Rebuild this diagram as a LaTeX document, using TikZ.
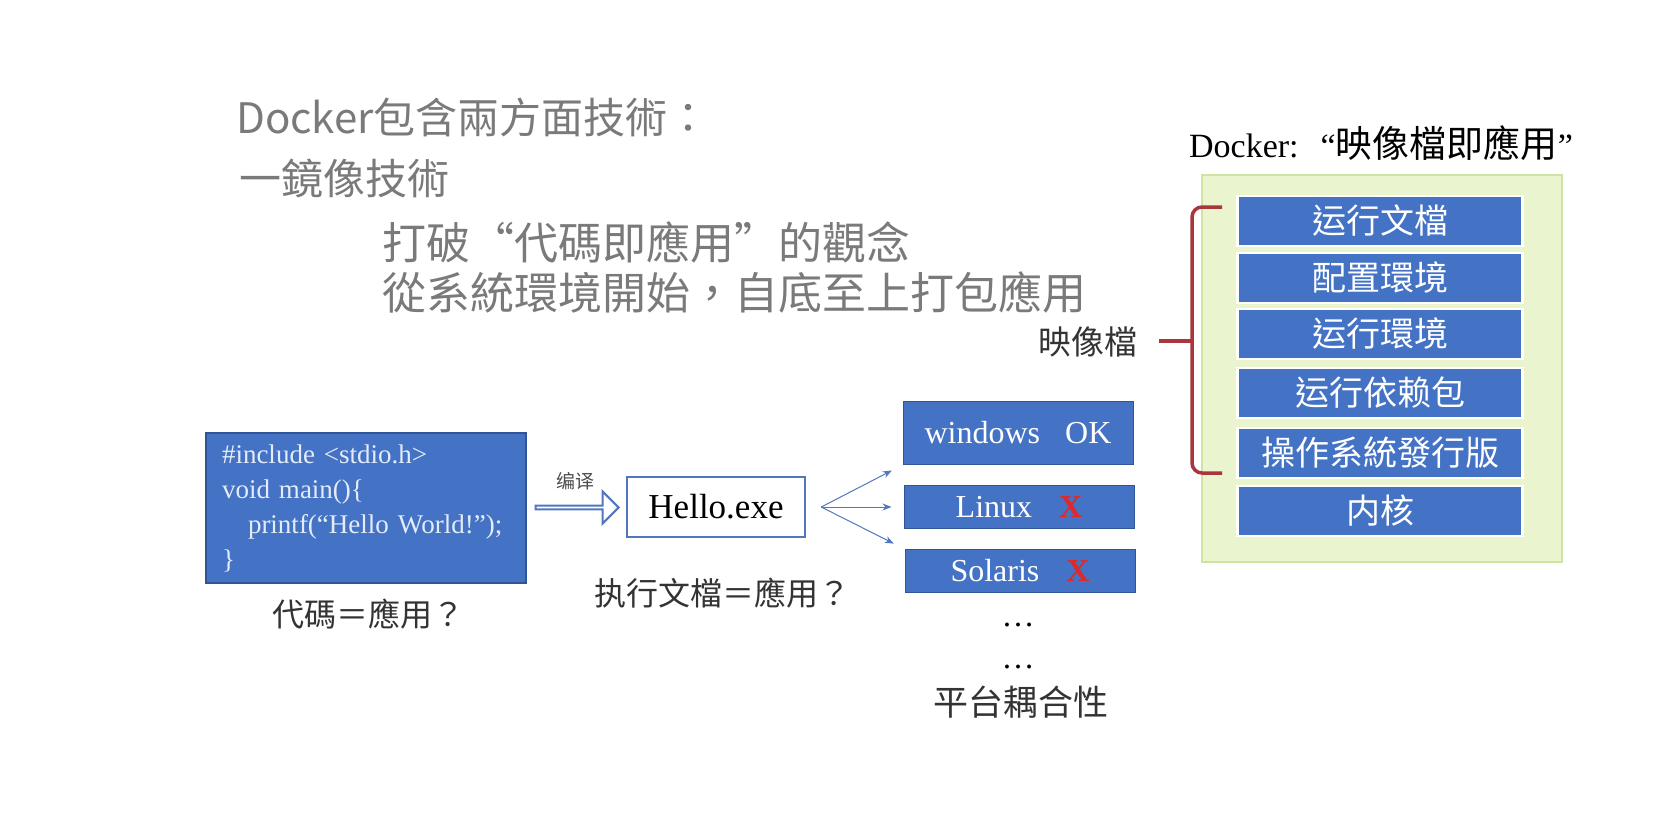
\documentclass[tikz,border=0pt]{standalone}
\usepackage{fontspec}
\setmainfont{Liberation Serif}
\newfontfamily\cjk{Noto Sans CJK TC}
\usetikzlibrary{shapes.arrows,calc,arrows.meta}

\definecolor{boxblue}{HTML}{4472C4}
\definecolor{boxedge}{HTML}{2F5597}
\definecolor{codetext}{HTML}{E4ECFA}
\definecolor{headgrey}{HTML}{7A7A7A}
\definecolor{fanblue}{HTML}{5277BE}
\definecolor{crossred}{HTML}{E02828}
\definecolor{panelgreen}{HTML}{EAF4CF}
\definecolor{paneledge}{HTML}{CFE3A3}
\definecolor{bracered}{HTML}{A8363C}

\tikzset{
  heading/.style={anchor=west, inner sep=0pt, text=headgrey, font=\cjk\fontsize{42}{50}\selectfont},
  caption/.style={inner sep=0pt, text=black!80, font=\cjk\fontsize{32}{40}\selectfont},
  codebox/.style={draw=boxedge, line width=1.5pt, fill=boxblue, text=codetext, text width=288pt,
    inner xsep=16pt, minimum height=150pt, align=left, font=\fontsize{27}{35}\selectfont},
  exebox/.style={draw=fanblue, line width=2.5pt, fill=white, minimum width=178pt, minimum height=60pt,
    font=\fontsize{35}{40}\selectfont},
  platform/.style={draw=boxedge, line width=1pt, fill=boxblue, text=white, minimum width=230pt,
    inner ysep=2pt, font=\fontsize{32}{40}\selectfont},
  layer/.style={draw=white, line width=2.5pt, fill=boxblue, text=white, minimum width=285pt,
    minimum height=50pt, inner ysep=2pt, font=\cjk\fontsize{34}{40}\selectfont},
  compile/.style={single arrow, draw=fanblue, fill=white, line width=2pt, minimum height=83pt,
    minimum width=32pt, single arrow head extend=8pt, inner sep=0pt},
  fan/.style={-{Stealth[length=9pt,width=7pt]}, draw=fanblue, line width=1pt, shorten >=12pt},
  bracket/.style={draw=bracered, line width=3.5pt, rounded corners=10pt},
}
\newcommand{\cross}{{\color{crossred}\textbf{X}}}

\begin{document}
\begin{tikzpicture}[x=1pt,y=-1pt]
  \useasboundingbox[fill=white] (0,0) rectangle (1666,828);

  % headings
  \node[heading] (head1) at (236,117) {Docker包含兩方面技術：};
  \node[heading] (head2) at (239,178) {一鏡像技術};
  \node[heading, font=\cjk\fontsize{44}{50}\selectfont] (head3) at (382,242) {打破“代碼即應用”的觀念};
  \node[heading, font=\cjk\fontsize{44}{50}\selectfont] (head4) at (382,292) {從系統環境開始，自底至上打包應用};

  % code -> exe
  \node[codebox] (code) at (366,508)
    {\#include <stdio.h>\\void main()\{\\\hspace*{26pt}printf(“Hello World!”);\\\}};
  \node[caption] (codecap) at (368,614) {代碼＝應用？};
  \node[exebox] (exe) at (716,507) {Hello.exe};
  \node[caption] (execap) at (722,593) {执行文檔＝應用？};
  \node[compile] (compile) at ($(code.east)!0.5!(exe.west)$) {};
  \node[caption, text=black!70, font=\cjk\fontsize{19}{20}\selectfont] (compilelbl) at (575,481) {编译};

  % platforms
  \node[platform, minimum height=63pt] (win) at (1018,433) {windows\hspace{25pt}OK};
  \node[platform, minimum height=43pt] (linux) at (1019,507) {Linux\hspace{27pt}\cross};
  \node[platform, minimum height=43pt] (sol) at (1020,571) {Solaris\hspace{27pt}\cross};
  \coordinate (fork) at ([xshift=15pt]exe.east);
  \draw[fan] (fork) -- (win.south west);
  \draw[fan] (fork) -- (linux.west);
  \draw[fan] (fork) -- (sol.north west);
  \node[font=\fontsize{33}{40}\selectfont] (dots1) at (1018,625) {…};
  \node[font=\fontsize{33}{40}\selectfont] (dots2) at (1018,667) {…};
  \node[caption, font=\cjk\fontsize{35}{40}\selectfont] (coupling) at (1021,702) {平台耦合性};

  % docker image
  \node[font=\fontsize{34}{40}\selectfont] (title) at (1381,143)
    {Docker:\hspace{22pt}“{\cjk\fontsize{37}{40}\selectfont 映像檔即應用}”};
  \node[draw=paneledge, fill=panelgreen, line width=2pt, minimum width=360pt,
    minimum height=387pt] (panel) at (1382,368.5) {};
  \node[layer] (l1) at (1380,221) {运行文檔};
  \node[layer] (l2) at (1380,278) {配置環境};
  \node[layer] (l3) at (1380,334) {运行環境};
  \node[layer] (l4) at (1380,393) {运行依赖包};
  \node[layer] (l5) at (1380,453) {操作系統發行版};
  \node[layer] (l6) at (1380,511) {内核};
  \draw[bracket] (1222,207) -- (1192,207) -- (1192,473) -- (1222,473);
  \draw[bracket] (1192,341) -- (1159,341);
  \node[caption, font=\cjk\fontsize{33}{40}\selectfont] (imglabel) at (1088,342) {映像檔};
\end{tikzpicture}
\end{document}
